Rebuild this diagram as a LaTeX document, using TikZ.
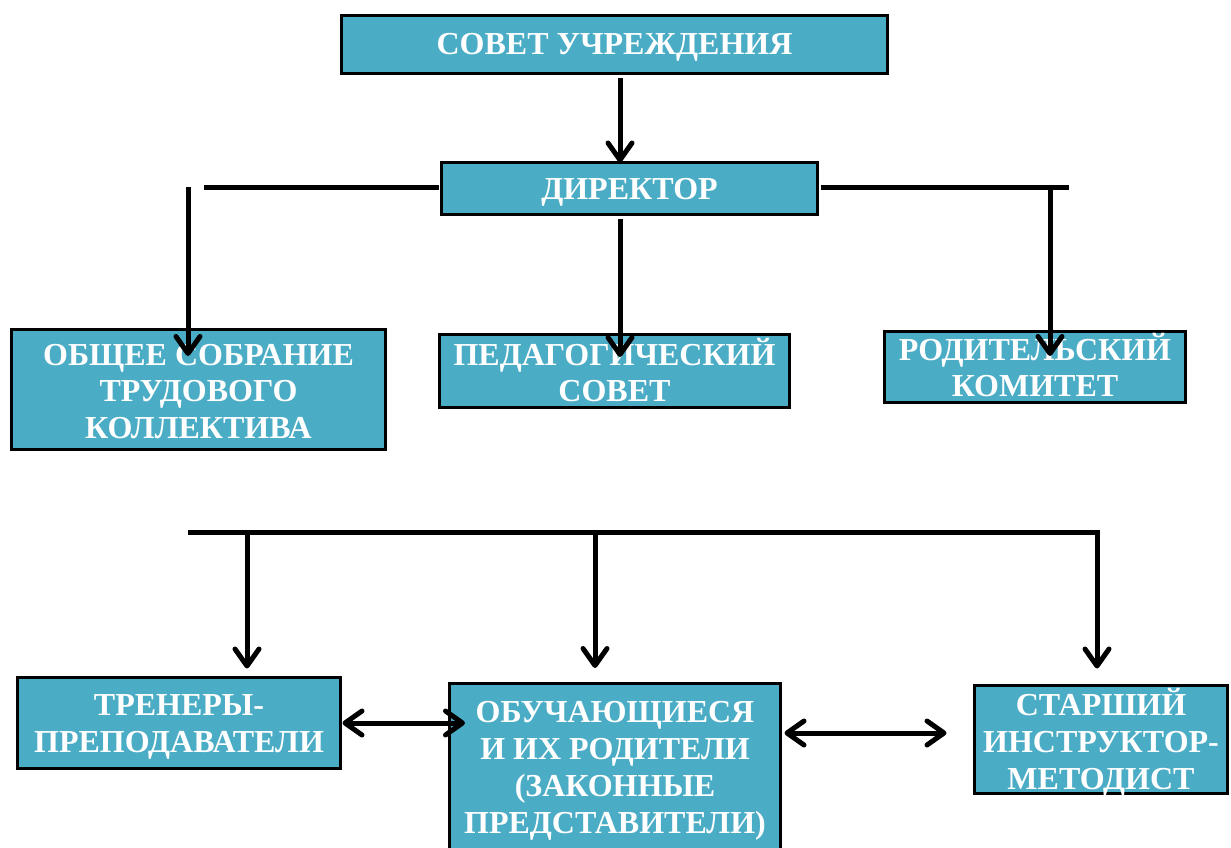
\documentclass[tikz,border=0pt]{standalone}
\usepackage{fontspec}
\setmainfont{Liberation Serif}
\usetikzlibrary{arrows.meta}
\definecolor{boxfill}{HTML}{4BACC6}
\begin{document}
\begin{tikzpicture}[x=1pt,y=-1pt,
  box/.style={draw=black, line width=3pt, fill=boxfill, inner sep=0pt, outer sep=0pt},
  txt/.style={text=white, font=\fontsize{32}{36.8}\selectfont\bfseries, align=center, inner sep=0pt},
  conn/.style={line width=5pt, draw=black},
  arr/.style={conn, -{Straight Barb[length=17pt,width=24pt,round]}},
  darr/.style={conn, {Straight Barb[length=17pt,width=24pt,round]}-{Straight Barb[length=17pt,width=24pt,round]}}]
\useasboundingbox (0,0) rectangle (1231,848);

% boxes
\node[box, minimum width=546pt, minimum height=58pt] (s) at (614.5,44.5) {};
\node[box, minimum width=376pt, minimum height=52pt] (d) at (629.5,188.5) {};
\node[box, minimum width=374pt, minimum height=120pt] (o) at (198.5,389.5) {};
\node[box, minimum width=350pt, minimum height=73pt] (p) at (614.5,371) {};
\node[box, minimum width=301pt, minimum height=71pt] (r) at (1035,367) {};
\node[box, minimum width=323pt, minimum height=91pt] (t) at (179,723) {};
\node[box, minimum width=331pt, minimum height=168pt] (u) at (615,767) {};
\node[box, minimum width=253pt, minimum height=108pt] (m) at (1101,739.5) {};

% texts
\node[txt] (s-t) at ([yshift=-3pt]s.center) {СОВЕТ УЧРЕЖДЕНИЯ};
\node[txt] (d-t) at ([yshift=-4pt]d.center) {ДИРЕКТОР};
\node[txt] (o-t) at ([yshift=-2pt]o.center) {ОБЩЕЕ СОБРАНИЕ\\ТРУДОВОГО\\КОЛЛЕКТИВА};
\node[txt] (p-t) at ([yshift=1pt]p.center) {ПЕДАГОГИЧЕСКИЙ\\СОВЕТ};
\node[txt] (r-t) at ([yshift=2pt]r.center) {РОДИТЕЛЬСКИЙ\\КОМИТЕТ};
\node[txt] (t-t) at ([yshift=-4pt]t.center) {ТРЕНЕРЫ-\\ПРЕПОДАВАТЕЛИ};
\node[txt] (u-t) at ([yshift=-4pt]u.center) {ОБУЧАЮЩИЕСЯ\\И ИХ РОДИТЕЛИ\\(ЗАКОННЫЕ\\ПРЕДСТАВИТЕЛИ)};
\node[txt] (m-t) at ([yshift=-3pt]m.center) {СТАРШИЙ\\ИНСТРУКТОР-\\МЕТОДИСТ};

% helper coordinates
\coordinate (cx) at (620,0);
\coordinate (lh) at (204,187);
\coordinate (lv) at (188,187);
\coordinate (lt) at (188,356);
\coordinate (rh) at (1069,187);
\coordinate (rv) at (1050,187);
\coordinate (rt) at (1050,356);
\coordinate (pt) at (620,357);
\coordinate (bl) at (188,532);
\coordinate (b1) at (247,532);
\coordinate (b2) at (595,532);
\coordinate (br) at (1097,532);
\coordinate (ue) at (465,723);
\coordinate (mid) at (0,733);

% upper connectors
\draw[arr, shorten <=5pt] (s.south -| cx) -- (d.north -| cx);
\draw[conn, shorten >=3pt] (lh) -- (d.west |- lh);
\draw[arr] (lv) -- (lt);
\draw[conn, shorten <=3pt] (d.east |- rh) -- (rh);
\draw[arr] (rv) -- (rt);
\draw[arr, shorten <=4pt] (d.south -| cx) -- (pt);

% lower connectors
\draw[arr, shorten >=17pt] (bl) -- (br) -- (m.north -| br);
\draw[arr, shorten >=9pt] (b1) -- (t.north -| b1);
\draw[arr, shorten >=15pt] (b2) -- (u.north -| b2);
\draw[darr, shorten <=2pt] (t.east) -- (ue);
\draw[darr, shorten <=4pt, shorten >=28pt] (u.east |- mid) -- (m.west |- mid);
\end{tikzpicture}
\end{document}
